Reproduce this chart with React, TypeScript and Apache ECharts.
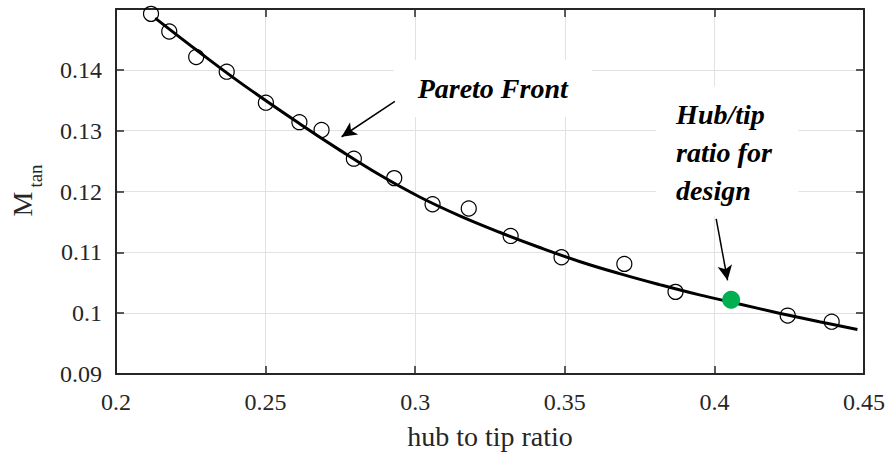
import React, { useEffect, useRef } from "react";
import * as echarts from "echarts";

// Optimizer samples: hub-to-tip ratio vs tangential Mach number
const sampleRatio = [0.2117, 0.2178, 0.2268, 0.237, 0.2501, 0.2613, 0.2687, 0.2795, 0.293, 0.3058, 0.3179, 0.3319, 0.3489, 0.3699, 0.387, 0.4245, 0.4392];
const sampleMach = [0.1492, 0.1463, 0.1421, 0.1397, 0.1346, 0.1314, 0.1301, 0.1254, 0.1222, 0.1179, 0.1172, 0.1127, 0.1092, 0.1081, 0.1035, 0.0996, 0.0986];

// Fitted Pareto front
const frontRatio = [0.2131, 0.2281, 0.2415, 0.2615, 0.2748, 0.2882, 0.3015, 0.3149, 0.3282, 0.3416, 0.3549, 0.3683, 0.3816, 0.395, 0.4083, 0.4217, 0.4351, 0.4478];
const frontMach = [0.1485, 0.1428, 0.1379, 0.1311, 0.1268, 0.1227, 0.1191, 0.116, 0.1133, 0.1108, 0.1085, 0.1065, 0.1047, 0.103, 0.1015, 0.1, 0.0986, 0.0973];

// Selected design point
const designRatio = [0.4056];
const designMach = [0.1022];

const xTickLabels = ["0.2", "0.25", "0.3", "0.35", "0.4", "0.45"];
const yTickLabels = ["0.09", "0.1", "0.11", "0.12", "0.13", "0.14"];

// Annotation arrows: [tail, head] in data coordinates
const paretoArrow = [[0.2932, 0.1348], [0.2754, 0.129]];
const designArrow = [[0.4006, 0.1155], [0.4044, 0.1054]];

const SERIF = "Liberation Serif";
const AXIS_COLOR = "#262626";

export default function App() {
  const ref = useRef<HTMLDivElement>(null);

  useEffect(() => {
    if (!ref.current) return;
    const chart = echarts.init(ref.current, undefined, { renderer: "svg" });

    const xFmt = (v: number) => xTickLabels[Math.round((v - 0.2) / 0.05)] ?? "";
    const yFmt = (v: number) => yTickLabels[Math.round((v - 0.09) / 0.01)] ?? "";

    const frame = { show: true, lineStyle: { color: AXIS_COLOR, width: 2 } };
    const ticks = { show: true, inside: true, length: 8, lineStyle: { color: AXIS_COLOR, width: 1.5 } };

    chart.setOption({
      animation: false,
      grid: { left: 116, right: 25, top: 9, bottom: 79 },
      xAxis: [
        {
          type: "value",
          min: 0.2,
          max: 0.45,
          interval: 0.05,
          name: "hub to tip ratio",
          nameLocation: "middle",
          nameGap: 48,
          nameTextStyle: { fontFamily: SERIF, fontSize: 28, color: AXIS_COLOR },
          axisLine: frame,
          axisTick: ticks,
          axisLabel: { formatter: xFmt, fontFamily: SERIF, fontSize: 24, color: AXIS_COLOR, margin: 16 },
          splitLine: { show: true, lineStyle: { color: "#e2e2e2", width: 1 } },
        },
        {
          type: "value",
          position: "top",
          min: 0.2,
          max: 0.45,
          interval: 0.05,
          axisLine: frame,
          axisTick: ticks,
          axisLabel: { show: false },
          splitLine: { show: false },
        },
      ],
      yAxis: [
        {
          type: "value",
          min: 0.09,
          max: 0.15,
          interval: 0.01,
          axisLine: frame,
          axisTick: ticks,
          axisLabel: { formatter: yFmt, fontFamily: SERIF, fontSize: 24, color: AXIS_COLOR, margin: 14, showMaxLabel: false },
          splitLine: { show: true, lineStyle: { color: "#e2e2e2", width: 1 } },
        },
        {
          type: "value",
          position: "right",
          min: 0.09,
          max: 0.15,
          interval: 0.01,
          axisLine: frame,
          axisTick: ticks,
          axisLabel: { show: false },
          splitLine: { show: false },
        },
      ],
      series: [
        {
          type: "line",
          data: frontRatio.map((x, i) => [x, frontMach[i]]),
          smooth: 0.4,
          showSymbol: false,
          lineStyle: { color: "#000", width: 3 },
          silent: true,
          z: 2,
          markLine: {
            silent: true,
            symbol: ["none", "arrow"],
            symbolSize: [11, 15],
            label: { show: false },
            lineStyle: { color: "#000", width: 1.5, type: "solid" },
            data: [paretoArrow, designArrow].map((a) => [{ coord: a[0] }, { coord: a[1] }]),
          },
        },
        {
          type: "scatter",
          data: sampleRatio.map((x, i) => [x, sampleMach[i]]),
          symbol: "circle",
          symbolSize: 15,
          itemStyle: { color: "rgba(0,0,0,0)", borderColor: "#000", borderWidth: 1.2, opacity: 1 },
          z: 3,
        },
        {
          type: "scatter",
          data: designRatio.map((x, i) => [x, designMach[i]]),
          symbol: "circle",
          symbolSize: 18,
          itemStyle: { color: "#00b050", opacity: 1 },
          z: 4,
        },
      ],
    });

    // Text boxes and the rotated y-axis title
    const p = (x: number, y: number) => chart.convertToPixel({ gridIndex: 0 }, [x, y]) as number[];
    const pareto = p(0.3259, 0.137);
    const hub = p(0.4043, 0.1264);
    const hubLeft = p(0.3872, 0.1264)[0];
    const labelStyle = { fontFamily: SERIF, fontSize: 28, fontStyle: "italic", fontWeight: "bold", fill: "#000" };

    chart.setOption({
      graphic: [
        {
          type: "rect",
          z: 1,
          shape: { x: pareto[0] - 99, y: pareto[1] - 28, width: 198, height: 57 },
          style: { fill: "#fff" },
        },
        {
          type: "text",
          z: 1,
          x: pareto[0],
          y: pareto[1],
          style: { ...labelStyle, text: "Pareto Front", align: "center", verticalAlign: "middle" },
        },
        {
          type: "rect",
          z: 1,
          shape: { x: hub[0] - 71, y: hub[1] - 66, width: 142, height: 130 },
          style: { fill: "#fff" },
        },
        {
          type: "text",
          z: 1,
          x: hubLeft,
          y: hub[1] - 57,
          style: {
            ...labelStyle,
            text: "Hub/tip\nratio for\ndesign",
            lineHeight: 38,
            align: "left",
            verticalAlign: "top",
          },
        },
        {
          type: "text",
          x: 22,
          y: 204,
          rotation: Math.PI / 2,
          style: { text: "M", fontFamily: SERIF, fontSize: 28, fill: AXIS_COLOR, align: "center", verticalAlign: "middle" },
        },
        {
          type: "text",
          x: 35,
          y: 176,
          rotation: Math.PI / 2,
          style: { text: "tan", fontFamily: SERIF, fontSize: 19, fill: AXIS_COLOR, align: "center", verticalAlign: "middle" },
        },
      ],
    });

    return () => chart.dispose();
  }, []);

  return <div ref={ref} style={{ position: "absolute", left: 0, top: 0, width: 889, height: 455 }} />;
}
